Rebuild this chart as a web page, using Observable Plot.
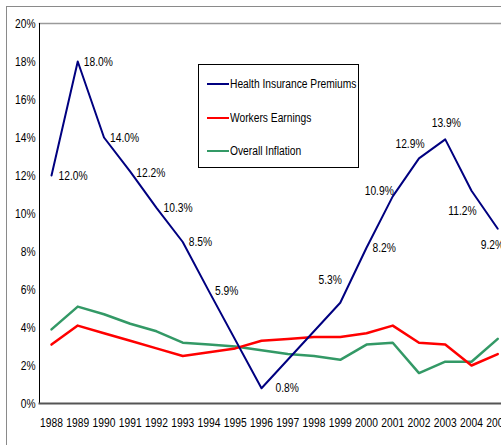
<!DOCTYPE html>
<html>
<head>
<meta charset="utf-8">
<script src="https://cdn.jsdelivr.net/npm/d3@7"></script>
<script src="https://cdn.jsdelivr.net/npm/@observablehq/plot@0.6"></script>
<style>
  html, body { margin: 0; padding: 0; background: #fff; overflow: hidden; }
  #wrap { position: relative; width: 501px; height: 445px; overflow: hidden; }
  #frame { position: absolute; left: 6px; top: 6px; width: 600px; height: 600px;
           border-left: 1.5px solid #8a8a8a; border-top: 1.5px solid #8a8a8a; pointer-events: none; }
  #legend { position: absolute; left: 198px; top: 64px; width: 159px; height: 102px;
            border: 1px solid #000; background: #fff;
            font-family: Arial, "Liberation Sans", sans-serif; font-size: 12.5px; color: #000; }
  .item { position: absolute; left: 8px; display: flex; align-items: center; height: 14px; white-space: nowrap; }
  .swatch { width: 22px; height: 0; margin-right: 1px; flex: none; }
  .item span { display: inline-block; transform: scaleX(0.82); transform-origin: left center; }
  svg { display: block; }
</style>
</head>
<body>
<div id="wrap"><div id="frame"></div></div>
<script>
// ---- data ----
const years = [1988,1989,1990,1991,1992,1993,1994,1995,1996,1997,1998,1999,2000,2001,2002,2003,2004,2005];
const premiums = [12.0,18.0,14.0,12.2,10.3,8.5,5.9,null,0.8,null,null,5.3,8.2,10.9,12.9,13.9,11.2,9.2];
const earnings = [3.1,4.1,3.7,3.3,2.9,2.5,2.7,2.9,3.3,3.4,3.5,3.5,3.7,4.1,3.2,3.1,2.0,2.6];
const inflation = [3.9,5.1,4.7,4.2,3.8,3.2,3.1,3.0,2.8,2.6,2.5,2.3,3.1,3.2,1.6,2.2,2.2,3.4];
const seriesNames = ["Health Insurance Premiums", "Workers Earnings", "Overall Inflation"];
const yTicks = [0,2,4,6,8,10,12,14,16,18,20];

// ---- styling ----
const colors = ["#000080", "#ff0000", "#339966"];
const widths = [2, 2.5, 2.5];
// label placement per year (style only): [textAnchor, dx, dy]
const labelPlace = {
  1988: ["start", 7, 0], 1989: ["start", 6, 0], 1990: ["start", 6, 0], 1991: ["start", 6, 1],
  1992: ["start", 7, 0], 1993: ["start", 6, 0], 1994: ["start", 6, 0], 1996: ["start", 14, 0],
  1999: ["middle", -10, -23], 2000: ["start", 6, 0], 2001: ["end", 1, -5], 2002: ["middle", -9, -14],
  2003: ["middle", 1, -16], 2004: ["middle", -9, 20], 2005: ["start", -17, 16]
};

const font = "Arial, 'Liberation Sans', sans-serif";
const narrow = 0.82; // emulate Arial Narrow

const rows = (vals, s) => years.map((y, i) => ({year: y, value: vals[i], series: s}))
  .filter(d => d.value != null);
const prem = rows(premiums, seriesNames[0]);
const earn = rows(earnings, seriesNames[1]);
const infl = rows(inflation, seriesNames[2]);

// Plot's dx/dy are constants per mark, so build one mark per label placement
const labelGroups = d3.groups(prem.filter(d => labelPlace[d.year]), d => labelPlace[d.year].join(","));
const labels = labelGroups.map(([key, arr]) => {
  const [anchor, dx, dy] = labelPlace[arr[0].year];
  return Plot.text(arr, {
    x: "year", y: "value", text: d => d.value.toFixed(1) + "%",
    textAnchor: anchor, dx: dx, dy: dy, fill: "#000", fontSize: 12.5, fontFamily: font
  });
});

const chart = Plot.plot({
  width: 501,
  height: 445,
  marginLeft: 39,
  marginRight: 0,
  marginTop: 23,
  marginBottom: 42,
  style: {background: "transparent", fontFamily: font, fontSize: "12.5px", color: "#000", overflow: "hidden"},
  x: {type: "linear", domain: [years[0], years[years.length - 1]], range: [51, 497.25]},
  y: {domain: [0, 20]},
  marks: [
    Plot.axisX({ticks: years, tickFormat: d => String(d), tickSize: 0, tickPadding: 15, fontSize: 12.5, label: null}),
    Plot.axisY({ticks: yTicks, tickFormat: d => d + "%", tickSize: 0, tickPadding: 4, fontSize: 12.5, label: null}),
    Plot.frame({anchor: "top", stroke: "#9a9a9a", strokeWidth: 1.5}),
    Plot.frame({anchor: "left", stroke: "#000", strokeWidth: 1}),
    Plot.line(infl, {x: "year", y: "value", stroke: colors[2], strokeWidth: widths[2], curve: "linear"}),
    Plot.line(earn, {x: "year", y: "value", stroke: colors[1], strokeWidth: widths[1], curve: "linear"}),
    Plot.line(prem, {x: "year", y: "value", stroke: colors[0], strokeWidth: widths[0], curve: "linear"}),
    Plot.frame({anchor: "bottom", stroke: "#555", strokeWidth: 2}),
    ...labels
  ]
});

const wrap = document.getElementById("wrap");
wrap.insertBefore(chart, wrap.firstChild);

// condense all SVG text (Arial Narrow look)
chart.querySelectorAll("text").forEach(t => {
  const len = t.getComputedTextLength();
  if (len > 0) {
    t.setAttribute("textLength", (len * narrow).toFixed(2));
    t.setAttribute("lengthAdjust", "spacingAndGlyphs");
  }
});

// legend (HTML overlay)
const legend = document.createElement("div");
legend.id = "legend";
seriesNames.forEach((name, i) => {
  const item = document.createElement("div");
  item.className = "item";
  item.style.top = (12 + i * 33.5) + "px";
  const sw = document.createElement("div");
  sw.className = "swatch";
  sw.style.borderTop = widths[i] + "px solid " + colors[i];
  const t = document.createElement("span");
  t.textContent = name;
  item.appendChild(sw); item.appendChild(t);
  legend.appendChild(item);
});
wrap.appendChild(legend);
</script>
</body>
</html>
